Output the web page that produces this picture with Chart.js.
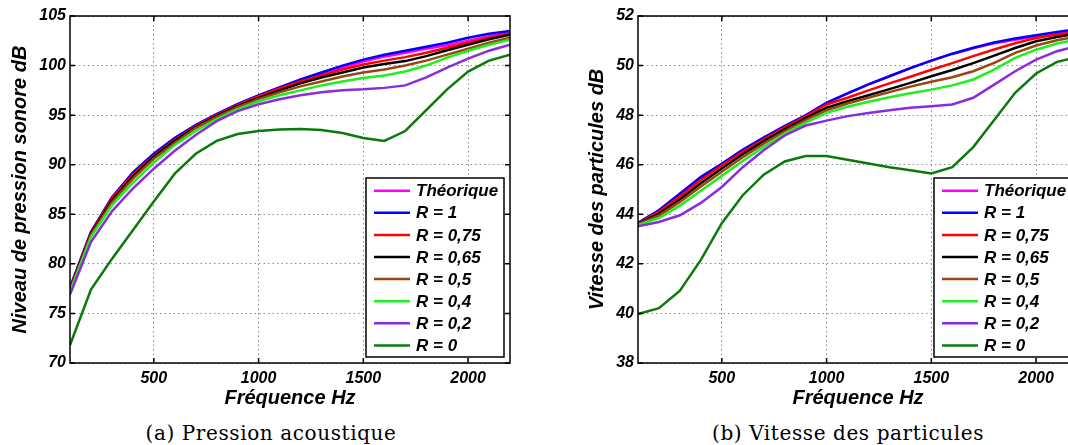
<!DOCTYPE html>
<html lang="fr">
<head>
<meta charset="UTF-8">
<title>Pression acoustique et vitesse des particules</title>
<script src="https://cdn.jsdelivr.net/npm/chart.js"></script>
<style>
  body { margin: 0; background: #fff; }
  .page { position: relative; width: 1068px; height: 445px; overflow: hidden; }
  .panel { position: absolute; top: 0; }
  #left { left: 0; }
  #right { left: 534px; }
  .caption {
    position: absolute; top: 421px; width: 400px;
    font-family: "DejaVu Serif", serif; font-size: 20px; letter-spacing: 0.6px;
    text-align: center; white-space: nowrap; color: #000;
  }
</style>
</head>
<body>
<div class="page">
  <canvas id="left" class="panel" width="534" height="415"></canvas>
  <canvas id="right" class="panel" width="560" height="415"></canvas>
  <div class="caption" style="left:71px">(a) Pression acoustique</div>
  <div class="caption" style="left:648px">(b) Vitesse des particules</div>
</div>

<script>
// frequencies (Hz)
const freq = [100, 200, 300, 400, 500, 600, 700, 800, 900, 1000, 1100,
              1200, 1300, 1400, 1500, 1600, 1700, 1800, 1900, 2000, 2100, 2200];
const xTicks = [500, 1000, 1500, 2000];

const labels = ['Théorique', 'R = 1', 'R = 0,75', 'R = 0,65', 'R = 0,5', 'R = 0,4', 'R = 0,2', 'R = 0'];
const colors = ['#ff00ff', '#0000ff', '#ff0000', '#000000', '#9c4514', '#1ef01e', '#8a2be2', '#0b7a0b'];

// (a) niveau de pression sonore, dB
const pTheo = [77.6, 83.2, 86.7, 89.2, 91.1, 92.7, 94.0, 95.1, 96.1, 97.0, 97.8, 98.5, 99.2, 99.8, 100.4, 100.9, 101.3, 101.7, 102.05, 102.5, 102.95, 103.3];
const pR1   = [77.6, 83.2, 86.7, 89.2, 91.1, 92.7, 94.0, 95.1, 96.1, 97.0, 97.8, 98.6, 99.3, 100.0, 100.6, 101.1, 101.5, 101.9, 102.3, 102.8, 103.2, 103.5];
const pR075 = [77.5, 83.1, 86.6, 89.0, 90.9, 92.5, 93.9, 95.0, 96.0, 96.9, 97.7, 98.4, 99.0, 99.6, 100.1, 100.5, 100.85, 101.3, 101.8, 102.3, 102.8, 103.2];
const pR065 = [77.4, 83.0, 86.4, 88.8, 90.8, 92.4, 93.8, 94.9, 95.9, 96.7, 97.5, 98.2, 98.8, 99.3, 99.8, 100.15, 100.45, 100.95, 101.55, 102.1, 102.65, 103.1];
const pR05  = [77.3, 82.9, 86.2, 88.6, 90.6, 92.2, 93.7, 94.8, 95.8, 96.6, 97.3, 97.9, 98.4, 98.9, 99.3, 99.6, 100.0, 100.5, 101.1, 101.7, 102.3, 102.8];
const pR04  = [77.2, 82.7, 85.9, 88.2, 90.2, 92.0, 93.4, 94.6, 95.6, 96.4, 97.0, 97.5, 98.0, 98.4, 98.75, 99.0, 99.4, 100.0, 100.8, 101.5, 102.1, 102.6];
const pR02  = [76.9, 82.2, 85.3, 87.6, 89.6, 91.4, 93.0, 94.4, 95.4, 96.1, 96.6, 97.0, 97.3, 97.5, 97.6, 97.75, 98.0, 98.8, 99.8, 100.7, 101.5, 102.1];
const pR0   = [71.8, 77.4, 80.5, 83.4, 86.3, 89.1, 91.1, 92.4, 93.1, 93.4, 93.55, 93.6, 93.5, 93.2, 92.7, 92.4, 93.4, 95.5, 97.6, 99.4, 100.5, 101.1];

// (b) vitesse des particules, dB
const vTheo = [43.65, 44.16, 44.83, 45.5, 46.04, 46.6, 47.09, 47.56, 47.99, 48.5, 48.88, 49.24, 49.57, 49.9, 50.2, 50.47, 50.7, 50.9, 51.04, 51.17, 51.3, 51.43];
const vR1   = [43.65, 44.16, 44.83, 45.5, 46.04, 46.6, 47.09, 47.56, 47.99, 48.5, 48.88, 49.24, 49.57, 49.9, 50.2, 50.48, 50.72, 50.93, 51.09, 51.22, 51.36, 51.48];
const vR075 = [43.63, 44.1, 44.72, 45.38, 45.97, 46.52, 47.02, 47.5, 47.95, 48.43, 48.7, 49.0, 49.28, 49.55, 49.83, 50.1, 50.38, 50.65, 50.9, 51.11, 51.25, 51.38];
const vR065 = [43.62, 44.02, 44.6, 45.25, 45.85, 46.42, 46.95, 47.43, 47.88, 48.3, 48.56, 48.8, 49.05, 49.3, 49.57, 49.82, 50.1, 50.4, 50.71, 50.98, 51.15, 51.3];
const vR05  = [43.6, 43.95, 44.5, 45.12, 45.72, 46.3, 46.85, 47.35, 47.8, 48.2, 48.47, 48.7, 48.93, 49.15, 49.35, 49.53, 49.77, 50.11, 50.51, 50.81, 51.02, 51.18];
const vR04  = [43.57, 43.85, 44.35, 44.95, 45.55, 46.15, 46.72, 47.25, 47.7, 48.09, 48.34, 48.54, 48.72, 48.88, 49.03, 49.2, 49.44, 49.84, 50.31, 50.64, 50.89, 51.05];
const vR02  = [43.52, 43.69, 43.96, 44.46, 45.1, 45.9, 46.58, 47.18, 47.58, 47.78, 47.96, 48.09, 48.2, 48.3, 48.36, 48.43, 48.7, 49.23, 49.77, 50.24, 50.58, 50.8];
const vR0   = [39.97, 40.21, 40.92, 42.16, 43.64, 44.77, 45.6, 46.13, 46.35, 46.35, 46.2, 46.05, 45.9, 45.78, 45.65, 45.9, 46.71, 47.8, 48.9, 49.68, 50.15, 50.35];

Chart.defaults.font.family = 'Liberation Sans';
Chart.defaults.color = '#000';

const bold = size => ({ family: 'Liberation Sans', size: size, weight: 'bold', style: 'italic' });

// matlab-like box with inward ticks
const boxPlugin = {
    id: 'box',
    afterDatasetsDraw(chart) {
        const { ctx, chartArea: a, scales } = chart;
        ctx.save();
        ctx.strokeStyle = '#000';
        ctx.lineWidth = 1.5;
        ctx.beginPath();
        scales.x.ticks.forEach(t => {
            const px = scales.x.getPixelForValue(t.value);
            ctx.moveTo(px, a.bottom); ctx.lineTo(px, a.bottom - 5);
            ctx.moveTo(px, a.top); ctx.lineTo(px, a.top + 5);
        });
        scales.y.ticks.forEach(t => {
            const py = scales.y.getPixelForValue(t.value);
            ctx.moveTo(a.left, py); ctx.lineTo(a.left + 5, py);
            ctx.moveTo(a.right, py); ctx.lineTo(a.right - 5, py);
        });
        ctx.stroke();
        ctx.strokeRect(a.left, a.top, a.right - a.left, a.bottom - a.top);
        ctx.restore();
    }
};

// legend box in the lower right corner
const legendPlugin = {
    id: 'boxLegend',
    afterDraw(chart) {
        const { ctx, chartArea: a } = chart;
        const w = 138, h = 179;
        const x0 = a.right - 6 - w, y0 = a.bottom - 6 - h;
        ctx.save();
        ctx.fillStyle = '#fff';
        ctx.fillRect(x0, y0, w, h);
        ctx.strokeStyle = '#000';
        ctx.lineWidth = 1.5;
        ctx.strokeRect(x0, y0, w, h);
        ctx.font = 'italic bold 17px "Liberation Sans"';
        ctx.textBaseline = 'middle';
        chart.data.datasets.forEach((ds, i) => {
            const y = y0 + 12.7 + i * 22.1;
            ctx.strokeStyle = ds.borderColor;
            ctx.lineWidth = 2.5;
            ctx.beginPath();
            ctx.moveTo(x0 + 8, y);
            ctx.lineTo(x0 + 44, y);
            ctx.stroke();
            ctx.fillStyle = '#000';
            ctx.fillText(ds.label, x0 + 50, y + 1);
        });
        ctx.restore();
    }
};

function makeChart(id, series, yMin, yMax, yStep, yTitle, yAxisWidth, titlePad, padRight) {
    const datasets = series.map((s, i) => ({
        label: labels[i],
        data: s,
        borderColor: colors[i],
        borderWidth: 2.5,
        pointRadius: 0,
        tension: 0,
        fill: false,
        order: -i
    }));
    return new Chart(document.getElementById(id), {
        type: 'line',
        data: { labels: freq, datasets: datasets },
        options: {
            responsive: false,
            animation: false,
            devicePixelRatio: 1,
            layout: { padding: { top: 16, right: padRight, left: 0, bottom: 0 } },
            plugins: { legend: { display: false }, tooltip: { enabled: false } },
            scales: {
                x: {
                    type: 'linear',
                    min: 100,
                    max: 2200,
                    afterBuildTicks: axis => { axis.ticks = xTicks.map(v => ({ value: v })); },
                    afterFit: axis => { axis.height = 52; },
                    ticks: { font: bold(16), padding: 6, maxRotation: 0, callback: v => String(v) },
                    grid: { color: '#8a8a8a', lineWidth: 1, drawTicks: false },
                    border: { display: false, dash: [1.5, 3] },
                    title: { display: true, text: 'Fréquence Hz', font: bold(20), padding: { top: 0, bottom: 5 } }
                },
                y: {
                    min: yMin,
                    max: yMax,
                    afterFit: axis => { axis.width = yAxisWidth; },
                    ticks: { stepSize: yStep, font: bold(16), padding: 4, callback: v => String(v) },
                    grid: { color: '#8a8a8a', lineWidth: 1, drawTicks: false },
                    border: { display: false, dash: [1.5, 3] },
                    title: { display: true, text: yTitle, font: bold(20), padding: { top: titlePad, bottom: 0 } }
                }
            }
        },
        plugins: [boxPlugin, legendPlugin]
    });
}

makeChart('left', [pTheo, pR1, pR075, pR065, pR05, pR04, pR02, pR0],
          70, 105, 5, 'Niveau de pression sonore dB', 70, 8, 24);
makeChart('right', [vTheo, vR1, vR075, vR065, vR05, vR04, vR02, vR0],
          38, 52, 2, 'Vitesse des particules dB', 104, 51, 16);
</script>
</body>
</html>
